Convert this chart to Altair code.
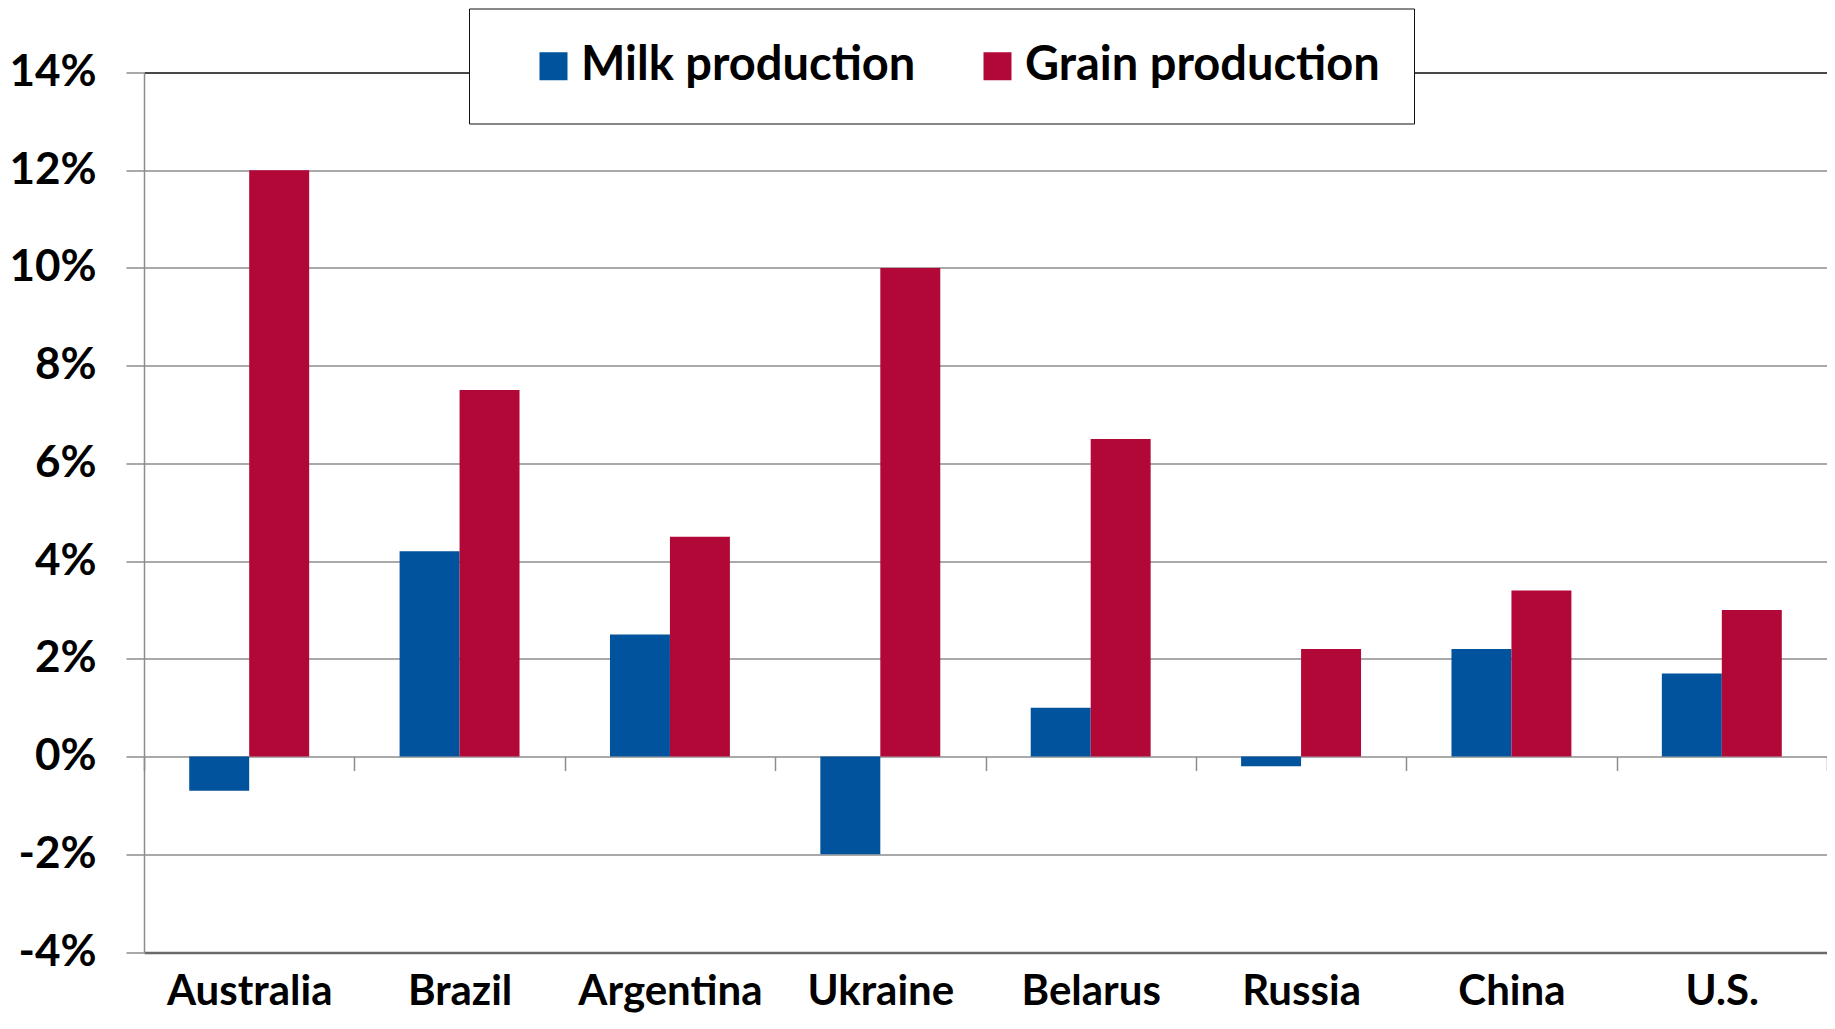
import altair as alt
import pandas as pd

countries = ["Australia", "Brazil", "Argentina", "Ukraine", "Belarus", "Russia", "China", "U.S."]
series = ["Milk production", "Grain production"]
milk = [-0.7, 4.2, 2.5, -2.0, 1.0, -0.2, 2.2, 1.7]
grain = [12.0, 7.5, 4.5, 10.0, 6.5, 2.2, 3.4, 3.0]
colors = ["#00539C", "#B20838"]
y_ticks = [-4, -2, 0, 2, 4, 6, 8, 10, 12, 14]

rows = []
for c, m, g in zip(countries, milk, grain):
    rows.append({"country": c, "series": series[0], "value": m})
    rows.append({"country": c, "series": series[1], "value": g})
df = pd.DataFrame(rows)

W, H = 1683, 879.5
LEFT = 136
FONT = "Lato"

chart = alt.Chart(df).mark_bar().encode(
    x=alt.X(
        "country:N",
        sort=countries,
        scale=alt.Scale(paddingInner=0, paddingOuter=0),
        axis=alt.Axis(
            title=None,
            labelAngle=0,
            domain=False,
            tickBand="extent",
            tickSize=14,
            tickColor="#8c8c8c",
            tickWidth=1.5,
            offset=-H * 4 / 18,
            labelPadding=234,
            labelBaseline="alphabetic",
            labelFont=FONT,
            labelFontWeight="bold",
            labelFontSize=42,
            labelColor="black",
            labelLimit=1000,
        ),
    ),
    xOffset=alt.XOffset("series:N", sort=series,
                        scale=alt.Scale(paddingInner=0, paddingOuter=0.754)),
    y=alt.Y(
        "value:Q",
        scale=alt.Scale(domain=[-4, 14], nice=False, zero=False),
        axis=alt.Axis(
            title=None,
            values=y_ticks,
            labelExpr="datum.value + '%'",
            domainColor="#8c8c8c",
            domainWidth=1.5,
            tickColor="#8c8c8c",
            tickWidth=1.5,
            tickSize=18,
            labelPadding=30,
            labelFont=FONT,
            labelFontWeight="bold",
            labelFontSize=44,
            labelColor="black",
            grid=True,
            gridColor={"condition": [
                {"test": "datum.value == 14", "value": "#111111"},
                {"test": "datum.value == -4", "value": "#6a6a6a"}],
                "value": "#8c8c8c"},
            gridWidth={"condition": {"test": "datum.value == -4", "value": 2.5},
                       "value": 1.5},
        ),
    ),
    color=alt.Color(
        "series:N",
        sort=series,
        scale=alt.Scale(domain=series, range=colors),
        legend=alt.Legend(
            title=None,
            orient="none",
            legendX=469 - 8 - LEFT,
            legendY=-64,
            direction="horizontal",
            symbolType="square",
            symbolSize=784,
            symbolStrokeWidth=0,
            symbolOffset=27,
            labelFont=FONT,
            labelFontWeight="bold",
            labelFontSize=47,
            labelColor="black",
            labelOffset=4,
            labelLimit=1000,
            columnPadding=31,
            padding=34,
            fillColor="white",
            strokeColor="#111111",
        ),
    ),
).properties(
    width=W,
    height=H,
    autosize=alt.AutoSizeParams(type="none"),
    padding={"left": LEFT, "top": 64.5, "right": 0, "bottom": 64},
).configure_view(
    stroke="#1a1a1a", strokeWidth=1.5
).configure_legend(
    strokeWidth=1.5
).configure(background="white")

chart.save("out.html", embed_options={"renderer": "svg", "actions": False})
